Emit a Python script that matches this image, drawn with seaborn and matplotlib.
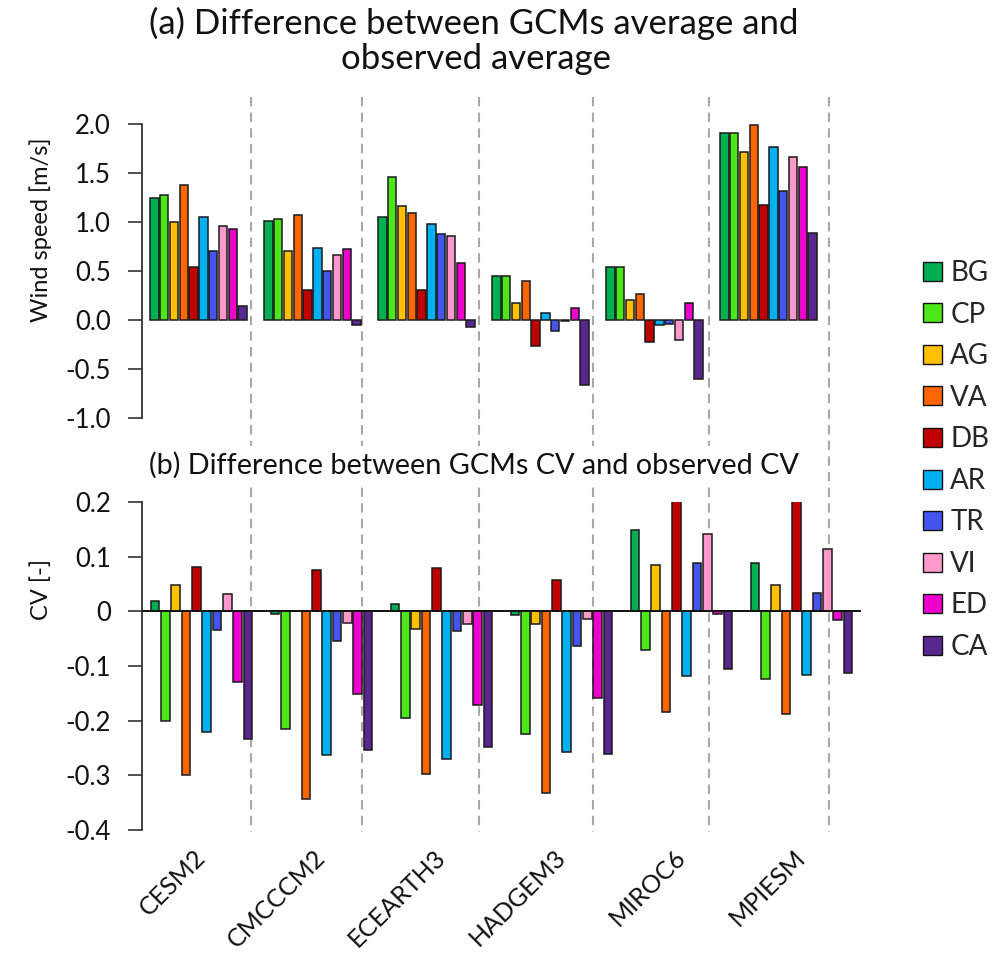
import numpy as np
import pandas as pd
import seaborn as sns
import matplotlib
matplotlib.use("Agg")
import matplotlib.pyplot as plt
from matplotlib.patches import Patch
from matplotlib.lines import Line2D

# ---------------- data ----------------
models = ["CESM2", "CMCCCM2", "ECEARTH3", "HADGEM3", "MIROC6", "MPIESM"]
regions = ["BG", "CP", "AG", "VA", "DB", "AR", "TR", "VI", "ED", "CA"]
region_colors = ["#00B050", "#4CE619", "#FFC000", "#FF6600", "#C00000",
                 "#00B0F0", "#4455EE", "#FF99CC", "#EE00CC", "#59288F"]

# (a) difference between GCM average and observed average [m/s]
avg_cesm2    = [1.25, 1.28, 1.00, 1.38, 0.54, 1.05, 0.70, 0.96, 0.93, 0.14]
avg_cmcccm2  = [1.01, 1.03, 0.70, 1.07, 0.31, 0.73, 0.50, 0.66, 0.72, -0.05]
avg_ecearth3 = [1.05, 1.46, 1.16, 1.09, 0.31, 0.98, 0.88, 0.86, 0.58, -0.07]
avg_hadgem3  = [0.45, 0.45, 0.17, 0.40, -0.27, 0.07, -0.11, -0.01, 0.12, -0.66]
avg_miroc6   = [0.54, 0.54, 0.20, 0.27, -0.22, -0.05, -0.04, -0.20, 0.17, -0.60]
avg_mpiesm   = [1.91, 1.91, 1.71, 1.99, 1.17, 1.77, 1.32, 1.66, 1.56, 0.89]

# (b) difference between GCM CV and observed CV [-]
cv_cesm2    = [0.018, -0.200, 0.048, -0.300, 0.081, -0.221, -0.035, 0.032, -0.130, -0.233]
cv_cmcccm2  = [-0.005, -0.216, 0.001, -0.343, 0.076, -0.262, -0.054, -0.021, -0.151, -0.253]
cv_ecearth3 = [0.014, -0.195, -0.032, -0.298, 0.079, -0.271, -0.036, -0.024, -0.172, -0.248]
cv_hadgem3  = [-0.007, -0.225, -0.024, -0.333, 0.058, -0.258, -0.064, -0.014, -0.159, -0.261]
cv_miroc6   = [0.149, -0.070, 0.084, -0.185, 0.230, -0.119, 0.088, 0.141, -0.004, -0.105]
cv_mpiesm   = [0.088, -0.124, 0.048, -0.188, 0.230, -0.116, 0.033, 0.114, -0.016, -0.112]

avg_ticks = [-1.0, -0.5, 0.0, 0.5, 1.0, 1.5, 2.0]
avg_ticklabels = ["-1.0", "-0.5", "0.0", "0.5", "1.0", "1.5", "2.0"]
cv_ticks = [-0.4, -0.3, -0.2, -0.1, 0.0, 0.1, 0.2]
cv_ticklabels = ["-0.4", "-0.3", "-0.2", "-0.1", "0", "0.1", "0.2"]

title_a_line1 = "(a) Difference between GCMs average and"
title_a_line2 = "observed average"
title_b = "(b) Difference between GCMs CV and observed CV"
ylabel_a = "Wind speed [m/s]"
ylabel_b = "CV [-]"

avg_rows = [avg_cesm2, avg_cmcccm2, avg_ecearth3, avg_hadgem3, avg_miroc6, avg_mpiesm]
cv_rows = [cv_cesm2, cv_cmcccm2, cv_ecearth3, cv_hadgem3, cv_miroc6, cv_mpiesm]


def to_long(rows):
    recs = []
    for m, vals in zip(models, rows):
        for r, v in zip(regions, vals):
            recs.append({"model": m, "region": r, "value": v})
    return pd.DataFrame(recs)


df_avg = to_long(avg_rows)
df_cv = to_long(cv_rows)

# ---------------- style ----------------
sns.set_style("white")
plt.rcParams["font.family"] = ["Lato", "DejaVu Sans"]
plt.rcParams["axes.unicode_minus"] = False

W, H = 1003, 956
fig = plt.figure(figsize=(W / 100, H / 100), dpi=100)


def fx(px):
    return px / W


def fy(py):
    return 1 - py / H


ax_a = fig.add_axes([fx(141.5), fy(418), fx(825.5) - fx(141.5), fy(124) - fy(418)])
ax_b = fig.add_axes([fx(141.5), fy(830), fx(861.5) - fx(141.5), fy(502) - fy(830)])

bar_kw = dict(x="model", y="value", hue="region", order=models, hue_order=regions,
              palette=region_colors, saturation=1, width=0.86, gap=0.15,
              edgecolor="#1a1a1a", linewidth=1.1, legend=False, errorbar=None)

sns.barplot(data=df_avg, ax=ax_a, **bar_kw)
sns.barplot(data=df_cv, ax=ax_b, **bar_kw)

spine_col = "#333333"
for ax in (ax_a, ax_b):
    ax.patch.set_visible(False)
    for s in ("top", "right", "bottom"):
        ax.spines[s].set_visible(False)
    ax.spines["left"].set_color(spine_col)
    ax.spines["left"].set_linewidth(1.3)
    ax.tick_params(axis="y", direction="out", length=10, width=1.2, color=spine_col,
                   pad=12, labelsize=18.5, labelcolor="#111111", left=True)
    ax.set_xlabel("")
    ax.set_ylabel("")
    ax.set_xlim(-0.5, len(models) - 0.5)

ax_a.set_ylim(-1.0, 2.0)
ax_a.set_yticks(avg_ticks)
ax_a.set_yticklabels(avg_ticklabels)
ax_a.tick_params(axis="x", length=0, labelbottom=False)

ax_b.set_ylim(-0.4, 0.2)
ax_b.set_yticks(cv_ticks)
ax_b.set_yticklabels(cv_ticklabels)
ax_b.axhline(0, color="#111111", lw=1.4, zorder=5)
ax_b.tick_params(axis="x", length=0, pad=17, labelsize=18, labelcolor="#111111")
for lab in ax_b.get_xticklabels():
    lab.set_rotation(45)
    lab.set_ha("right")
    lab.set_va("center")
    lab.set_rotation_mode("anchor")

# separator dashed lines (layout decoration)
for xp in [251, 362, 478.7, 593.3, 709.3, 828.7]:
    fig.add_artist(Line2D([fx(xp), fx(xp)], [fy(97), fy(832)], transform=fig.transFigure,
                          color="#A8A8A8", lw=1.5, ls=(0, (4.5, 3)), zorder=-1))

# titles and labels
fig.text(fx(474), fy(23), title_a_line1, ha="center", va="center", fontsize=25,
         color="#111111", zorder=6)
fig.text(fx(476), fy(59), title_a_line2, ha="center", va="center", fontsize=25,
         color="#111111", zorder=6)
fig.text(fx(474), fy(465), title_b, ha="center", va="center", fontsize=20.8,
         color="#111111", zorder=6,
         bbox=dict(facecolor="white", edgecolor="none", pad=4))
fig.text(fx(41), fy(230), ylabel_a, rotation=90, ha="center", va="center",
         fontsize=17, color="#111111")
fig.text(fx(41), fy(590), ylabel_b, rotation=90, ha="center", va="center",
         fontsize=17, color="#111111")

handles = [Patch(facecolor=c, edgecolor="#111111", lw=1.0, label=r)
           for r, c in zip(regions, region_colors)]
fig.legend(handles=handles, loc="upper left", bbox_to_anchor=(fx(923), fy(260)),
           frameon=False, fontsize=20, handlelength=0.68, handleheight=0.68,
           handletextpad=0.3, labelspacing=0.56, borderaxespad=0, borderpad=0)

fig.savefig("out.png", dpi=100)
